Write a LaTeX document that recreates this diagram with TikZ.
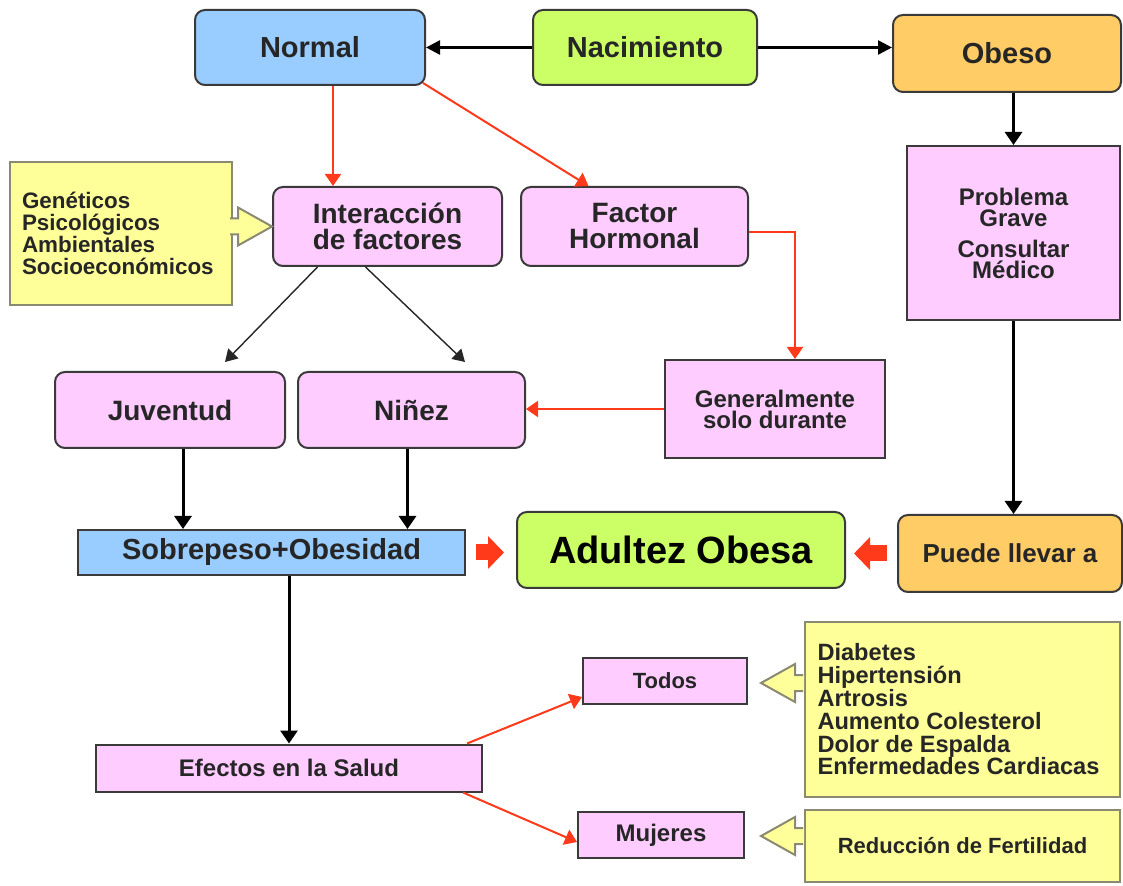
\documentclass[tikz,border=0pt]{standalone}
\usepackage{fontspec}
\setmainfont{Liberation Sans}
\usetikzlibrary{arrows.meta,calc}

\definecolor{bluebox}{HTML}{99CCFF}
\definecolor{greenbox}{HTML}{CCFF66}
\definecolor{orangebox}{HTML}{FFCC66}
\definecolor{pinkbox}{HTML}{FFCCFF}
\definecolor{notefill}{HTML}{FFFF99}
\definecolor{noteline}{HTML}{8A8A72}
\definecolor{boxline}{HTML}{3A3A3A}
\definecolor{arrowred}{HTML}{FF3A1A}
\definecolor{textgray}{HTML}{262626}

\tikzset{
	box/.style={draw=boxline, line width=1pt, rounded corners=5pt, inner sep=0pt, align=center, text=textgray, font=\bfseries},
	sqbox/.style={box, rounded corners=0pt},
	note/.style={draw=noteline, line width=1pt, fill=notefill, inner ysep=0pt, align=flush left, text=textgray},
	topline/.style={draw=black, line width=1.2pt, -{Triangle[length=7pt,width=7pt]}},
	blackline/.style={draw=black, line width=1.5pt, -{Triangle[length=6.5pt,width=8.5pt]}},
	thinline/.style={draw=black!85, line width=0.7pt, -{Triangle[length=6pt,width=7pt]}},
	redline/.style={draw=arrowred, line width=1pt, -{Triangle[length=6pt,width=8pt]}},
	blockarrow/.style={draw=arrowred, line width=8pt, -{Triangle[length=8pt,width=16pt]}},
	calledge/.style={draw=noteline, line width=1pt, line join=miter},
}

% arrow part of a yellow note: #1 tip, #2 side of the body (-1 left, 1 right)
\newcommand{\notearrow}[2]{%
	\fill[notefill] ($(#1)+(#2*43,-8)$) -- ($(#1)+(#2*34,-8)$) -- ($(#1)+(#2*34,-19)$) -- (#1)
		-- ($(#1)+(#2*34,19)$) -- ($(#1)+(#2*34,8)$) -- ($(#1)+(#2*43,8)$) -- cycle;
	\draw[calledge] ($(#1)+(#2*42,-8)$) -- ($(#1)+(#2*34,-8)$) -- ($(#1)+(#2*34,-19)$) -- (#1)
		-- ($(#1)+(#2*34,19)$) -- ($(#1)+(#2*34,8)$) -- ($(#1)+(#2*42,8)$);
}

\begin{document}
\begin{tikzpicture}[x=0.5pt,y=-0.5pt]
	\fill[white] (0,0) rectangle (1123,886);
	
	% top row
	\node[box, fill=bluebox, minimum width=115pt, minimum height=37.5pt, font=\bfseries\fontsize{14.5}{16}\selectfont] (normal) at (310,47.5) {Normal};
	\node[box, fill=greenbox, minimum width=112pt, minimum height=37.5pt, font=\bfseries\fontsize{14.5}{16}\selectfont] (nac) at (645,47.5) {Nacimiento};
	\node[box, fill=orangebox, minimum width=114pt, minimum height=38.5pt, font=\bfseries\fontsize{14.5}{16}\selectfont] (obeso) at (1007,53.5) {Obeso};
	
	\node[sqbox, fill=pinkbox, minimum width=106.5pt, minimum height=87pt, font=\bfseries\fontsize{12}{10.5}\selectfont] (problema) at (1013.5,233) {Problema\\Grave\\[5pt]Consultar\\Médico};
	
	% factores
	\node[box, fill=pinkbox, minimum width=114.5pt, minimum height=39.5pt, font=\bfseries\fontsize{14}{13}\selectfont] (inter) at (387.5,226.5) {Interacción\\de factores};
	\node[box, fill=pinkbox, minimum width=113.5pt, minimum height=39.5pt, font=\bfseries\fontsize{14}{13}\selectfont] (factor) at (634.5,226.5) {Factor\\Hormonal};
	\node[note, text width=99pt, inner xsep=6pt, minimum height=71.5pt, font=\bfseries\fontsize{11.2}{11}\selectfont] (lcall) at (121,233.5) {Genéticos\\Psicológicos\\Ambientales\\Socioeconómicos};
	
	\node[box, fill=pinkbox, minimum width=115pt, minimum height=38pt, font=\bfseries\fontsize{14}{16}\selectfont] (juv) at (170,410) {Juventud};
	\node[box, fill=pinkbox, minimum width=113.5pt, minimum height=38pt, font=\bfseries\fontsize{14}{16}\selectfont] (nin) at (411.5,410) {Niñez};
	\node[sqbox, fill=pinkbox, minimum width=110pt, minimum height=49pt, font=\bfseries\fontsize{12}{10.5}\selectfont] (gen) at (775,409) {Generalmente\\solo durante};
	
	% adultez
	\node[sqbox, fill=bluebox, minimum width=193.5pt, minimum height=22.5pt, font=\bfseries\fontsize{14.5}{16}\selectfont] (sobre) at (271.5,552.5) {Sobrepeso+Obesidad};
	\node[box, fill=greenbox, minimum width=164pt, minimum height=38pt, text=black, font=\bfseries\fontsize{19}{21}\selectfont] (adult) at (681,550) {Adultez Obesa};
	\node[box, fill=orangebox, minimum width=112pt, minimum height=38.5pt, font=\bfseries\fontsize{13}{15}\selectfont] (puede) at (1010,553.5) {Puede llevar a};
	
	% salud
	\node[sqbox, fill=pinkbox, minimum width=193pt, minimum height=23.5pt, font=\bfseries\fontsize{12}{14}\selectfont] (efectos) at (289,768) {Efectos en la Salud};
	\node[sqbox, fill=pinkbox, minimum width=82pt, minimum height=23pt, font=\bfseries\fontsize{11}{13}\selectfont] (todos) at (665,681) {Todos};
	\node[sqbox, fill=pinkbox, minimum width=83pt, minimum height=23pt, font=\bfseries\fontsize{12}{14}\selectfont] (mujeres) at (661,835) {Mujeres};
	\node[note, text width=145pt, inner xsep=6.25pt, minimum height=87.5pt, font=\bfseries\fontsize{11.8}{11.4}\selectfont] (list) at (962.5,709.5) {Diabetes\\Hipertensión\\Artrosis\\Aumento Colesterol\\Dolor de Espalda\\Enfermedades Cardiacas};
	\node[note, align=center, minimum width=157.5pt, minimum height=36pt, font=\bfseries\fontsize{11}{13}\selectfont] (reduc) at (962.5,846) {Reducción de Fertilidad};
	
	\notearrow{inter.west}{-1}
	\coordinate (tipa) at ($(list.west)+(-43,-26.5)$);
	\coordinate (tipb) at ($(reduc.west)+(-43,-10)$);
	\notearrow{tipa}{1}
	\notearrow{tipb}{1}
	
	% connectors
	\draw[topline] (nac.west) -- (normal.east);
	\draw[topline] (nac.east) -- (nac.east -| obeso.west);
	\draw[blackline] (problema.north |- obeso.south) -- (problema.north);
	\draw[blackline] (problema.south) -- (problema.south |- puede.north);
	
	\draw[redline] ([xshift=11.5pt]normal.south) -- ([xshift=11.5pt]normal.south |- inter.north);
	\draw[redline] ([xshift=-1.5pt,yshift=1.5pt]normal.south east) -- ([xshift=-23pt]factor.north);
	\draw[redline] ([yshift=-3pt]factor.east) -| ([xshift=10pt]gen.north);
	\draw[redline] (gen.west) -- (gen.west -| nin.east);
	
	\draw[thinline] ([xshift=-35pt]inter.south) -- ([xshift=27.5pt,yshift=4.5pt]juv.north);
	\draw[thinline] ([xshift=-11pt]inter.south) -- ([xshift=26.75pt,yshift=4.5pt]nin.north);
	
	\draw[blackline] ([xshift=6.5pt]juv.south) -- ([xshift=6.5pt]juv.south |- sobre.north);
	\draw[blackline] ([xshift=-2pt]nin.south) -- ([xshift=-2pt]nin.south |- sobre.north);
	
	\draw[blockarrow, shorten <=5pt, shorten >=6pt] (sobre.east) -- (sobre.east -| adult.west);
	\draw[blockarrow, shorten <=5pt, shorten >=4pt] (puede.west) -- (puede.west -| adult.east);
	
	\draw[blackline] (efectos.north |- sobre.south) -- (efectos.north);
	\draw[redline] ([xshift=-8pt]efectos.north east) -- ([yshift=-8pt]todos.west);
	\draw[redline] ([xshift=-10pt]efectos.south east) -- ([yshift=-3.5pt]mujeres.west);
\end{tikzpicture}
\end{document}
